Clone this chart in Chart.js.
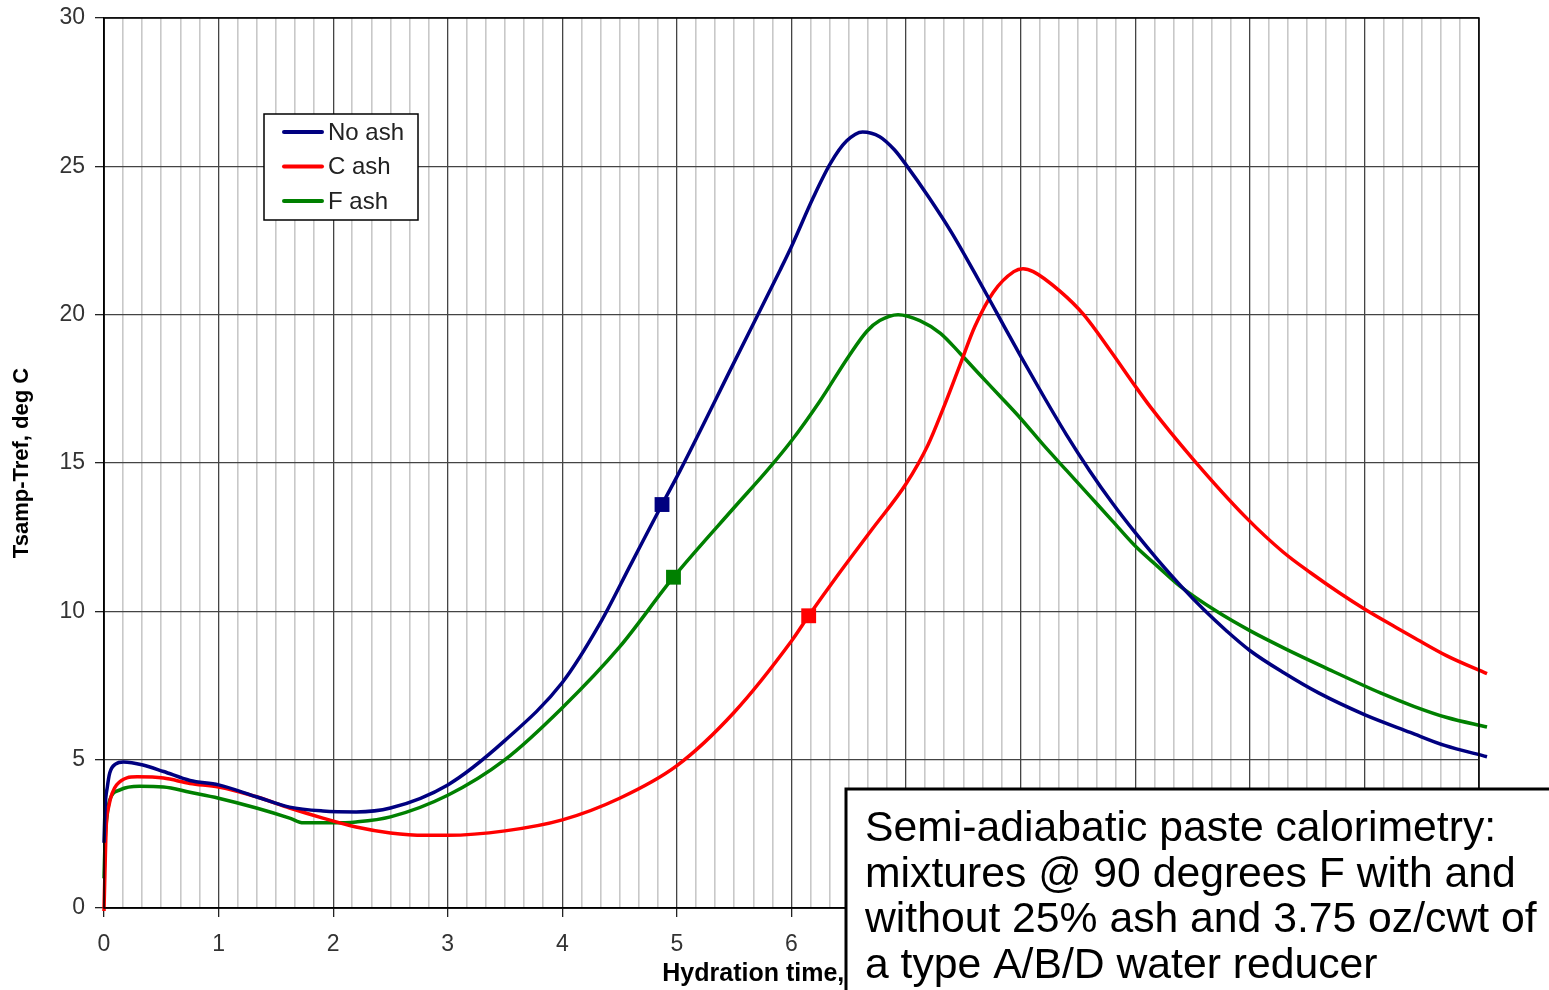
<!DOCTYPE html>
<html>
<head>
<meta charset="utf-8">
<script src="https://cdn.jsdelivr.net/npm/chart.js@4.4.1/dist/chart.umd.min.js"></script>
<style>
  html, body { margin: 0; padding: 0; background: #fff; }
  canvas { display: block; }
</style>
</head>
<body>
<canvas id="calChart" width="1549" height="990"></canvas>
<script>
// hydration time (hours) and Tsamp-Tref (deg C) for each mixture
const hoursNoAsh = [0, 0.01, 0.03, 0.05, 0.1, 0.17, 0.34, 0.52, 0.75, 1.0, 1.33, 1.62, 1.91, 2.2, 2.5, 3.0, 3.5, 4.0, 4.33, 4.6, 4.87, 5.03, 5.5, 5.9, 6.0, 6.19, 6.34, 6.48, 6.62, 6.77, 6.9, 7.0, 7.2, 7.4, 7.6, 7.8, 8.0, 8.2, 8.4, 8.6, 8.8, 9.0, 9.2, 9.4, 9.6, 9.8, 10.0, 10.3, 10.6, 11.0, 11.4, 11.7, 12.07];
const tempNoAsh  = [2.2, 3.4, 4.1, 4.55, 4.85, 4.92, 4.82, 4.6, 4.3, 4.15, 3.75, 3.4, 3.27, 3.24, 3.37, 4.15, 5.65, 7.6, 9.6, 11.6, 13.6, 14.76, 18.4, 21.5, 22.3, 23.95, 25.1, 25.85, 26.16, 26.0, 25.55, 25.05, 23.95, 22.75, 21.4, 20.0, 18.6, 17.25, 15.95, 14.75, 13.65, 12.65, 11.72, 10.85, 10.05, 9.33, 8.68, 7.92, 7.25, 6.52, 5.92, 5.48, 5.1];

const hoursCAsh = [0, 0.01, 0.02, 0.04, 0.11, 0.29, 0.52, 0.75, 1.0, 1.33, 1.62, 1.91, 2.2, 2.5, 2.8, 3.0, 3.5, 4.0, 4.5, 5.0, 5.5, 6.0, 6.15, 6.4, 6.7, 7.0, 7.19, 7.32, 7.47, 7.6, 7.76, 7.94, 8.02, 8.11, 8.34, 8.55, 8.78, 8.98, 9.13, 9.5, 9.97, 10.29, 10.53, 10.79, 11.0, 11.28, 11.43, 11.72, 12.07];
const tempCAsh  = [-0.1, 1.5, 2.8, 3.4, 4.15, 4.42, 4.38, 4.2, 4.08, 3.75, 3.37, 3.03, 2.73, 2.53, 2.45, 2.45, 2.6, 2.97, 3.7, 4.8, 6.6, 9.0, 9.85, 11.2, 12.75, 14.3, 15.6, 16.8, 18.3, 19.6, 20.75, 21.45, 21.55, 21.45, 20.8, 20.0, 18.8, 17.7, 16.9, 15.15, 13.15, 12.0, 11.3, 10.6, 10.08, 9.45, 9.12, 8.5, 7.9];

const hoursFAsh = [0, 0.01, 0.03, 0.05, 0.14, 0.31, 0.52, 0.75, 1.0, 1.33, 1.62, 1.74, 2.0, 2.2, 2.5, 3.0, 3.5, 4.0, 4.5, 4.97, 5.5, 5.79, 6.0, 6.25, 6.5, 6.66, 6.77, 6.93, 7.12, 7.3, 7.47, 7.65, 7.82, 8.0, 8.2, 8.4, 8.6, 8.8, 9.0, 9.2, 9.39, 9.71, 10.0, 10.32, 10.67, 11.14, 11.43, 11.72, 12.07];
const tempFAsh  = [1.0, 2.3, 3.2, 3.64, 3.98, 4.1, 4.08, 3.9, 3.7, 3.37, 3.03, 2.87, 2.87, 2.9, 3.07, 3.8, 5.0, 6.75, 8.8, 11.15, 13.5, 14.76, 15.75, 17.1, 18.6, 19.45, 19.8, 20.0, 19.8, 19.37, 18.7, 17.95, 17.25, 16.5, 15.6, 14.75, 13.9, 13.05, 12.2, 11.5, 10.85, 10.0, 9.35, 8.72, 8.08, 7.25, 6.8, 6.42, 6.1];

// square markers on each curve (No ash, C ash, F ash)
const markerHours = [4.87, 6.15, 4.97];
const markerTemps = [13.6, 9.85, 11.15];

const seriesNames  = ['No ash', 'C ash', 'F ash'];
const seriesColors = ['#000080', '#ff0000', '#008000'];

const noteLines = [
    'Semi-adiabatic paste calorimetry:',
    'mixtures @ 90 degrees F with and',
    'without 25% ash and 3.75 oz/cwt of',
    'a type A/B/D water reducer'
];

const FONT = "'Liberation Sans', Arial, sans-serif";

function toPoints(xs, ys) {
    return xs.map(function(x, i) { return { x: x, y: ys[i] }; });
}

function isWhole(v) {
    return Math.abs(v - Math.round(v)) < 1e-6;
}

const curveSets = [
    toPoints(hoursNoAsh, tempNoAsh),
    toPoints(hoursCAsh, tempCAsh),
    toPoints(hoursFAsh, tempFAsh)
];

const datasets = [];
for (let i = 0; i < 3; i++) {
    datasets.push({
        label: seriesNames[i],
        data: curveSets[i],
        borderColor: seriesColors[i],
        borderWidth: 3.5,
        pointRadius: 0,
        cubicInterpolationMode: 'monotone',
        fill: false,
        clip: false
    });
}
for (let i = 0; i < 3; i++) {
    datasets.push({
        label: seriesNames[i] + ' marker',
        data: [{ x: markerHours[i], y: markerTemps[i] }],
        showLine: false,
        pointStyle: 'rect',
        pointRadius: 10.5,
        pointBackgroundColor: seriesColors[i],
        pointBorderColor: seriesColors[i],
        pointBorderWidth: 0,
        order: -1,
        clip: false
    });
}

// frame round the plot area
const frame = {
    id: 'frame',
    afterDatasetsDraw(chart) {
        const a = chart.chartArea;
        const ctx = chart.ctx;
        ctx.save();
        ctx.strokeStyle = '#000';
        ctx.lineWidth = 1.5;
        ctx.strokeRect(a.left, a.top, a.right - a.left, a.bottom - a.top);
        ctx.restore();
    }
};

// boxed legend inside the plot
const boxLegend = {
    id: 'boxLegend',
    afterDraw(chart) {
        const ctx = chart.ctx;
        ctx.save();
        ctx.fillStyle = '#fff';
        ctx.fillRect(264, 114, 154, 106);
        ctx.strokeStyle = '#000';
        ctx.lineWidth = 1.5;
        ctx.strokeRect(264, 114, 154, 106);
        ctx.font = '24px ' + FONT;
        ctx.textBaseline = 'middle';
        ctx.textAlign = 'left';
        for (let i = 0; i < 3; i++) {
            const ds = chart.data.datasets[i];
            const y = 132 + i * 34.5;
            ctx.strokeStyle = ds.borderColor;
            ctx.lineWidth = 4;
            ctx.lineCap = 'round';
            ctx.beginPath();
            ctx.moveTo(284, y);
            ctx.lineTo(322, y);
            ctx.stroke();
            ctx.fillStyle = '#222';
            ctx.fillText(ds.label, 328, y + 1);
        }
        ctx.restore();
    }
};

// description box in the lower right corner
const noteBox = {
    id: 'noteBox',
    afterDraw(chart) {
        const ctx = chart.ctx;
        ctx.save();
        ctx.fillStyle = '#fff';
        ctx.fillRect(846, 789, 720, 220);
        ctx.strokeStyle = '#000';
        ctx.lineWidth = 3;
        ctx.strokeRect(846, 789, 720, 220);
        ctx.fillStyle = '#000';
        ctx.font = '42.7px ' + FONT;
        ctx.textBaseline = 'alphabetic';
        ctx.textAlign = 'left';
        noteLines.forEach(function(line, i) {
            ctx.fillText(line, 865, 841 + i * 45.7);
        });
        ctx.restore();
    }
};

const ctx = document.getElementById('calChart').getContext('2d');
const calChart = new Chart(ctx, {
    type: 'line',
    data: { datasets: datasets },
    options: {
        responsive: false,
        animation: false,
        devicePixelRatio: 1,
        layout: { padding: { left: 0, top: 18, right: 70, bottom: 0 } },
        plugins: {
            legend: { display: false },
            tooltip: { enabled: false }
        },
        scales: {
            x: {
                type: 'linear',
                min: 0,
                max: 12,
                afterBuildTicks: function(scale) {
                    const ticks = [];
                    for (let i = 0; i <= 72; i++) ticks.push({ value: i / 6 });
                    scale.ticks = ticks;
                },
                afterFit: function(scale) {
                    scale.height = 82;
                    scale.paddingLeft = 0;
                    scale.paddingRight = 0;
                },
                ticks: {
                    autoSkip: false,
                    maxRotation: 0,
                    padding: 14,
                    color: '#333',
                    font: { family: FONT, size: 23 },
                    callback: function(v) { return isWhole(v) ? String(Math.round(v)) : ''; }
                },
                grid: {
                    tickLength: 9,
                    color: function(c) { return isWhole(c.tick.value) ? '#444' : '#c8c8c8'; },
                    lineWidth: function(c) { return isWhole(c.tick.value) ? 1.3 : 1.6; },
                    tickColor: function(c) { return isWhole(c.tick.value) ? '#222' : 'rgba(0,0,0,0)'; }
                },
                border: { color: '#000', width: 1.5 },
                title: {
                    display: true,
                    text: 'Hydration time, hours',
                    color: '#000',
                    font: { family: FONT, size: 25, weight: 'bold' },
                    padding: { top: 0, bottom: 1 }
                }
            },
            y: {
                min: 0,
                max: 30,
                afterFit: function(scale) {
                    scale.width = 104;
                    scale.paddingTop = 0;
                    scale.paddingBottom = 0;
                },
                ticks: {
                    stepSize: 5,
                    padding: 10,
                    color: '#333',
                    font: { family: FONT, size: 23 }
                },
                grid: {
                    tickLength: 9,
                    color: '#444',
                    lineWidth: 1.3,
                    tickColor: '#222'
                },
                border: { color: '#000', width: 1.5 },
                title: {
                    display: true,
                    text: 'Tsamp-Tref, deg C',
                    color: '#000',
                    font: { family: FONT, size: 22, weight: 'bold' },
                    padding: { top: 9, bottom: 0 }
                }
            }
        }
    },
    plugins: [frame, boxLegend, noteBox]
});
</script>
</body>
</html>
